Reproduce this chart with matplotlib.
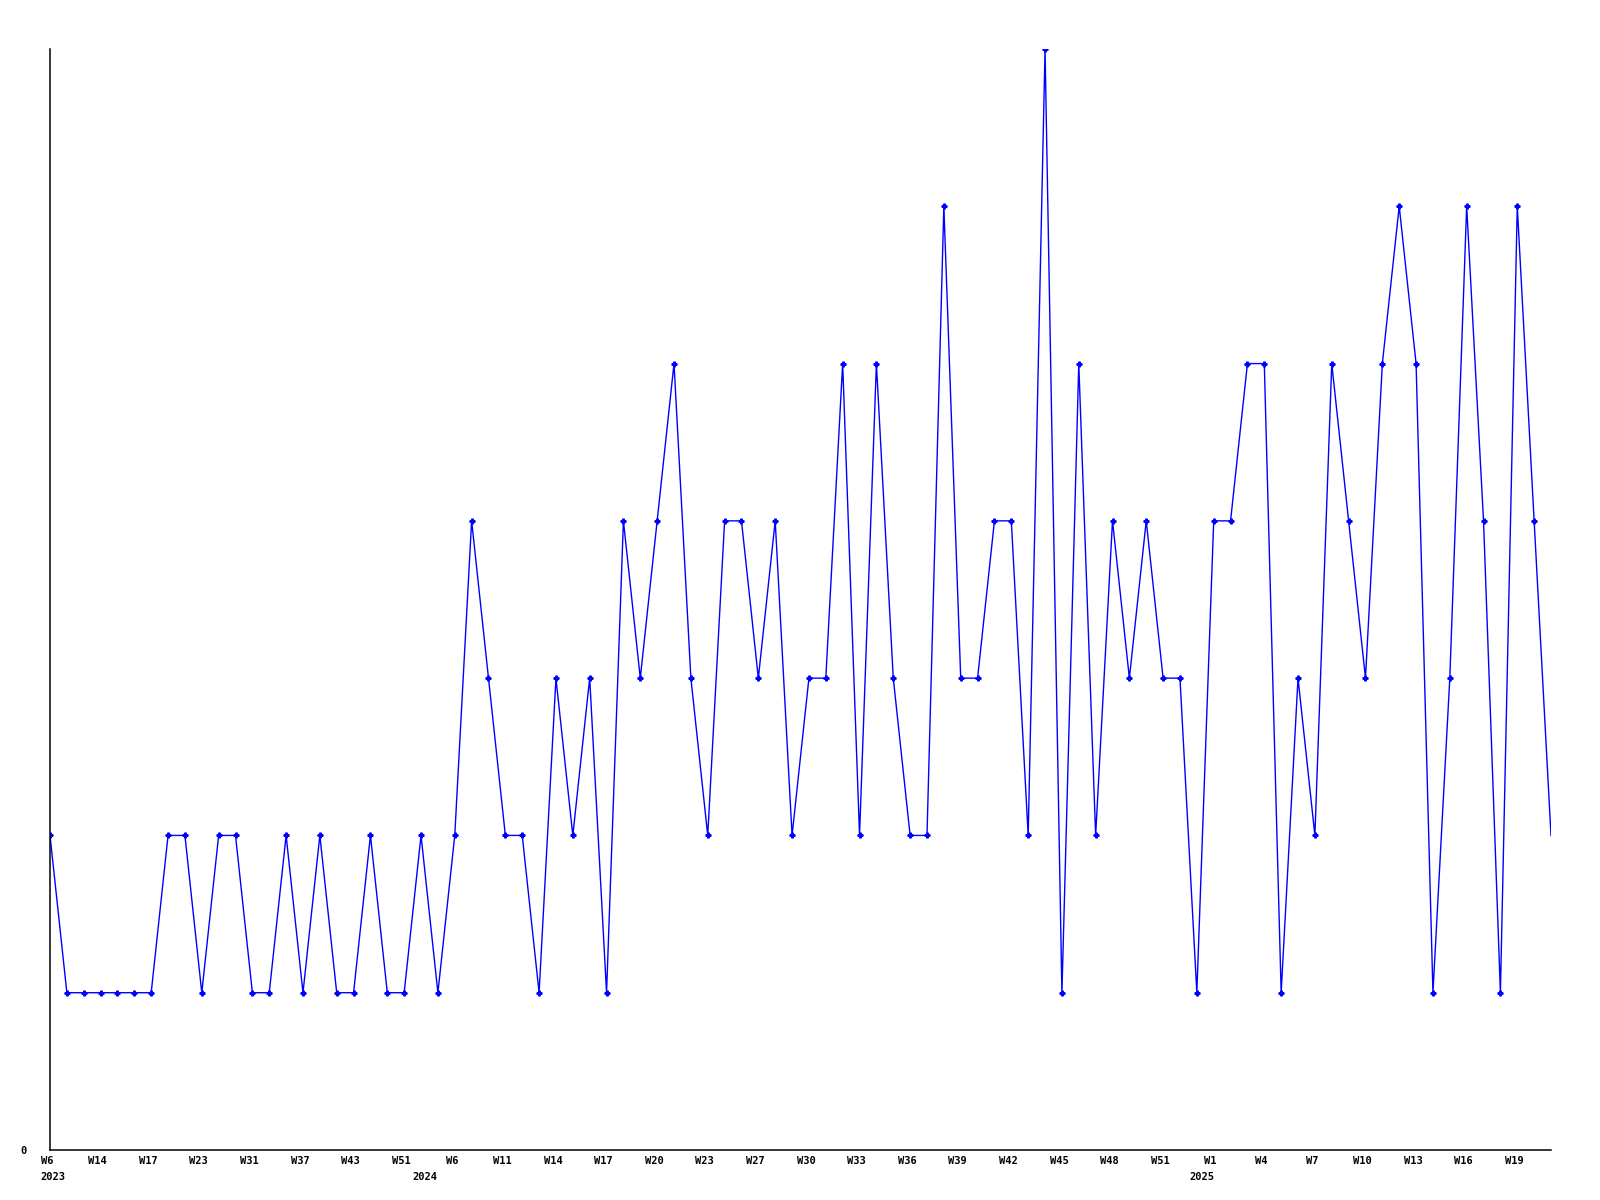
import matplotlib
matplotlib.use('Agg')
import matplotlib.pyplot as plt
import matplotlib.transforms as mtransforms

# weekly values, one point per recorded week
values = [2, 1, 1, 1, 1, 1, 1, 2, 2, 1,
          2, 2, 1, 1, 2, 1, 2, 1, 1, 2,
          1, 1, 2, 1, 2, 4, 3, 2, 2, 1,
          3, 2, 3, 1, 4, 3, 4, 5, 3, 2,
          4, 4, 3, 4, 2, 3, 3, 5, 2, 5,
          3, 2, 2, 6, 3, 3, 4, 4, 2, 7,
          1, 5, 2, 4, 3, 4, 3, 3, 1, 4,
          4, 5, 5, 1, 3, 2, 5, 4, 3, 5,
          6, 5, 1, 3, 6, 4, 1, 6, 4, 2]

# tick labels every third point
week_labels = ['W6', 'W14', 'W17', 'W23', 'W31', 'W37', 'W43', 'W51',
               'W6', 'W11', 'W14', 'W17', 'W20', 'W23', 'W27', 'W30',
               'W33', 'W36', 'W39', 'W42', 'W45', 'W48', 'W51',
               'W1', 'W4', 'W7', 'W10', 'W13', 'W16', 'W19']
years = ['2023', '2024', '2025']
year_pos = [0.2, 22.2, 68.3]

x = list(range(len(values)))

fig = plt.figure(figsize=(16, 12), dpi=100)
ax = fig.add_axes([50 / 1600, 1 - 1150 / 1200, 1501 / 1600, 1101 / 1200])

ax.plot(x, values, color='#0000ff', linewidth=1.0, marker='P', markersize=3.5,
        markevery=list(range(len(values) - 1)))

ax.set_xlim(0, len(values) - 1)
ax.set_ylim(0, 7)

for s in ['top', 'right']:
    ax.spines[s].set_visible(False)
for s in ['left', 'bottom']:
    ax.spines[s].set_linewidth(1.1)
    ax.spines[s].set_color('black')

font = dict(family='DejaVu Sans Mono', weight='bold', size=7.5)

ax.set_xticks(x[::3])
ax.set_xticklabels(week_labels, fontdict=font)
ax.set_yticks([0])
ax.set_yticklabels(['0'], fontdict=font)
ax.tick_params(axis='x', length=0, pad=4)
ax.tick_params(axis='y', length=0, pad=17)

# labels sit a little left of their point
shift = mtransforms.ScaledTranslation(-3 / 100, 0, fig.dpi_scale_trans)
for lbl in ax.get_xticklabels():
    lbl.set_transform(lbl.get_transform() + shift)

for yr, pos in zip(years, year_pos):
    ax.text(pos, -0.0245, yr, transform=ax.get_xaxis_transform(),
            ha='center', va='center', **font)

fig.savefig('out.png', dpi=100)
